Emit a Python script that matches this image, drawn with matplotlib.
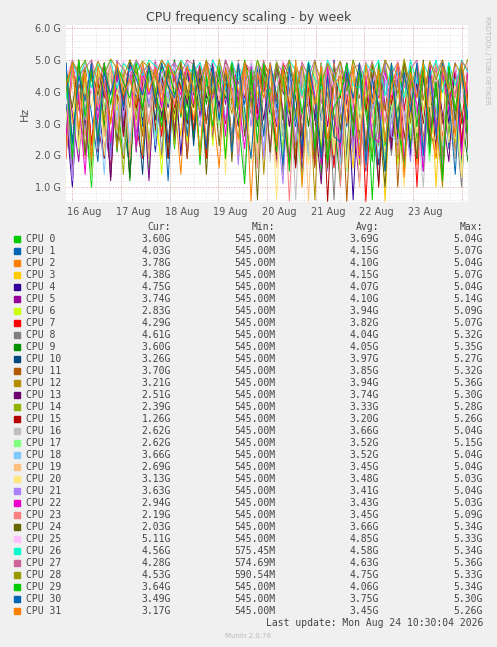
import numpy as np
import matplotlib
matplotlib.use("Agg")
import matplotlib.pyplot as plt
import matplotlib.dates as mdates
from datetime import datetime, timedelta

# legend table (GHz values as text)
cpus = ["CPU %d" % i for i in range(32)]
cur = ["3.60G", "4.03G", "3.78G", "4.38G", "4.75G", "3.74G", "2.83G", "4.29G",
       "4.61G", "3.60G", "3.26G", "3.70G", "3.21G", "2.51G", "2.39G", "1.26G",
       "2.62G", "2.62G", "3.66G", "2.69G", "3.13G", "3.63G", "2.94G", "2.19G",
       "2.03G", "5.11G", "4.56G", "4.28G", "4.53G", "3.64G", "3.49G", "3.17G"]
mins = ["545.00M"] * 26 + ["575.45M", "574.69M", "590.54M", "545.00M", "545.00M", "545.00M"]
avgs = [3.69, 4.15, 4.10, 4.15, 4.07, 4.10, 3.94, 3.82, 4.04, 4.05, 3.97, 3.85,
        3.94, 3.74, 3.33, 3.20, 3.66, 3.52, 3.52, 3.45, 3.48, 3.41, 3.43, 3.45,
        3.66, 4.85, 4.58, 4.63, 4.75, 4.06, 3.75, 3.45]
maxs = ["5.04G", "5.07G", "5.04G", "5.07G", "5.04G", "5.14G", "5.09G", "5.07G",
        "5.32G", "5.35G", "5.27G", "5.32G", "5.36G", "5.30G", "5.28G", "5.26G",
        "5.04G", "5.15G", "5.04G", "5.04G", "5.03G", "5.04G", "5.03G", "5.09G",
        "5.34G", "5.33G", "5.34G", "5.36G", "5.33G", "5.34G", "5.30G", "5.26G"]
colors = ["#00CC00", "#0066B3", "#FF8000", "#FFCC00", "#330099", "#990099", "#CCFF00", "#FF0000",
          "#808080", "#008F00", "#00487D", "#B35A00", "#B38F00", "#6B006B", "#8FB300", "#B30000",
          "#BEBEBE", "#80FF80", "#80C9FF", "#FFC080", "#FFE680", "#AA80FF", "#EE00CC", "#FF8080",
          "#666600", "#FFBFFF", "#00FFCC", "#CC6699", "#999900", "#00CC00", "#0066B3", "#FF8000"]

# hand-read frequency traces (GHz), 64 samples over the week
trace_a = [4.8, 2.1, 4.9, 3.2, 1.0, 4.6, 2.7, 4.9, 3.8, 1.9, 5.0, 2.4, 4.4, 1.3, 4.8, 3.1,
           4.9, 2.2, 4.6, 3.5, 5.0, 2.0, 4.7, 3.9, 4.9, 3.0, 4.8, 3.6, 5.0, 4.1, 3.4, 4.9,
           3.7, 4.8, 4.2, 3.3, 4.9, 4.0, 3.5, 4.8, 1.4, 4.7, 2.3, 4.9, 1.8, 5.0, 2.6, 4.6,
           0.6, 4.8, 2.1, 4.9, 3.3, 1.7, 4.7, 2.5, 4.9, 2.0, 4.4, 1.6, 4.8, 2.8, 4.6, 3.0]
trace_b = [3.9, 4.9, 2.6, 4.7, 3.3, 1.8, 4.9, 2.3, 4.5, 3.0, 1.6, 4.8, 2.9, 4.9, 2.1, 4.3,
           1.2, 4.8, 3.4, 4.9, 2.7, 4.6, 1.9, 5.0, 3.2, 4.7, 2.5, 4.9, 3.6, 4.8, 4.3, 3.8,
           4.9, 3.5, 4.7, 4.1, 2.9, 4.8, 3.9, 4.6, 3.1, 4.9, 1.7, 4.5, 2.9, 4.8, 1.9, 4.9,
           3.2, 1.1, 4.7, 2.4, 4.9, 3.6, 2.1, 4.8, 1.5, 4.6, 3.3, 4.9, 2.2, 4.7, 1.8, 3.5]
trace_c = [2.4, 4.6, 3.8, 4.9, 1.7, 4.4, 3.6, 1.5, 4.9, 2.8, 4.6, 3.4, 4.9, 2.0, 4.7, 2.6,
           4.9, 3.8, 1.4, 4.8, 3.1, 4.9, 2.4, 4.5, 3.7, 4.9, 2.3, 4.6, 3.9, 4.8, 3.5, 4.9,
           4.4, 3.9, 4.8, 3.6, 4.9, 4.2, 3.8, 4.7, 2.6, 4.9, 3.8, 2.2, 4.8, 3.1, 4.6, 2.1,
           4.9, 3.4, 1.9, 4.7, 2.6, 4.9, 3.9, 1.7, 4.8, 3.2, 2.3, 4.9, 3.7, 1.9, 4.5, 2.6]
trace_d = [4.5, 3.0, 4.8, 2.0, 4.9, 3.6, 4.7, 2.4, 4.1, 4.9, 1.3, 4.6, 3.8, 4.9, 2.9, 1.9,
           4.8, 4.0, 2.6, 4.9, 3.5, 4.2, 4.9, 2.8, 4.6, 1.9, 4.8, 4.1, 3.0, 4.9, 3.9, 4.4,
           3.6, 4.9, 4.0, 4.7, 3.7, 4.9, 4.5, 3.3, 4.8, 4.1, 2.0, 4.9, 3.5, 1.6, 4.7, 3.9,
           2.5, 4.9, 0.55, 4.6, 3.8, 4.9, 2.3, 4.7, 3.4, 4.9, 1.0, 4.6, 3.6, 4.8, 2.5, 4.2]
traces = [trace_a, trace_b, trace_c, trace_d]

start = datetime(2026, 8, 15, 21, 0)
end = datetime(2026, 8, 24, 3, 0)
n = len(trace_a)
times = [start + (end - start) * k / (n - 1) for k in range(n)]

W, H = 497, 647
fig = plt.figure(figsize=(W / 100, H / 100), dpi=100, facecolor="#F0F0F0")
ax = fig.add_axes([66 / W, 1 - 202 / H, (468 - 66) / W, (202 - 25) / H])
ax.set_facecolor("white")

for i in range(32):
    base = traces[i % 4]
    shift = (i // 4) * 3
    vals = base[shift:] + base[:shift]
    if avgs[i] > 4.5:
        vals = [5.05 - (5.05 - v) * 0.35 for v in vals]
    ax.plot(times, vals, color=colors[i], lw=0.7)

ax.set_ylim(0.53, 6.1)
ax.set_xlim(start, end)
ax.set_yticks([1, 2, 3, 4, 5, 6])
ax.set_yticklabels(["1.0 G", "2.0 G", "3.0 G", "4.0 G", "5.0 G", "6.0 G"])
ax.set_yticks(np.arange(0.6, 6.1, 0.2), minor=True)
days = [datetime(2026, 8, d) for d in range(16, 24)]
ax.set_xticks([d + timedelta(hours=6) for d in days])
ax.set_xticklabels([d.strftime("%d Aug") for d in days])
ax.set_xticks([start + timedelta(hours=3 + 6 * k) for k in range(33)], minor=True)
for d in days + [datetime(2026, 8, 24)]:
    ax.axvline(d, color="#E0A0A0", ls=":", lw=0.7, zorder=0)
for v in [1, 2, 3, 4, 5, 6]:
    ax.axhline(v, color="#E0A0A0", ls=":", lw=0.7, zorder=0)
ax.grid(which="minor", color="#D8D8D8", ls=":", lw=0.5)
ax.tick_params(colors="#555555", labelsize=7, length=0)
ax.tick_params(which="minor", length=0)
for s in ax.spines.values():
    s.set_visible(False)
ax.set_ylabel("Hz", color="#555555", fontsize=8)
fig.text(0.5, 1 - 18 / H, "CPU frequency scaling - by week", ha="center", va="center",
         fontsize=9, color="#444444")
fig.text(487 / W, 1 - 60 / H, "RRDTOOL / TOBI OETIKER", rotation=270, ha="center",
         va="center", fontsize=5, color="#BBBBBB")

mono = "DejaVu Sans Mono"
fs = 7
def row(y):
    return 1 - y / H
for col, x in (("Cur:", 171), ("Min:", 275), ("Avg:", 379), ("Max:", 483)):
    fig.text(x / W, row(227), col, ha="right", va="center", family=mono, fontsize=fs, color="#444444")
for i in range(32):
    y = 239 + i * 12
    fig.patches.append(plt.Rectangle((14 / W, row(y) - 3 / H), 6 / W, 6 / H,
                                     transform=fig.transFigure, color=colors[i]))
    fig.text(26 / W, row(y), cpus[i], ha="left", va="center", family=mono, fontsize=fs, color="#444444")
    for txt, x in ((cur[i], 171), (mins[i], 275), ("%.2fG" % avgs[i], 379), (maxs[i], 483)):
        fig.text(x / W, row(y), txt, ha="right", va="center", family=mono, fontsize=fs, color="#444444")
fig.text(483 / W, row(623), "Last update: Mon Aug 24 10:30:04 2026", ha="right", va="center",
         family=mono, fontsize=fs, color="#444444")
fig.text(248 / W, row(636), "Munin 2.0.76", ha="center", va="center", fontsize=5, color="#BBBBBB")

fig.savefig("out.png", dpi=100, facecolor=fig.get_facecolor())
